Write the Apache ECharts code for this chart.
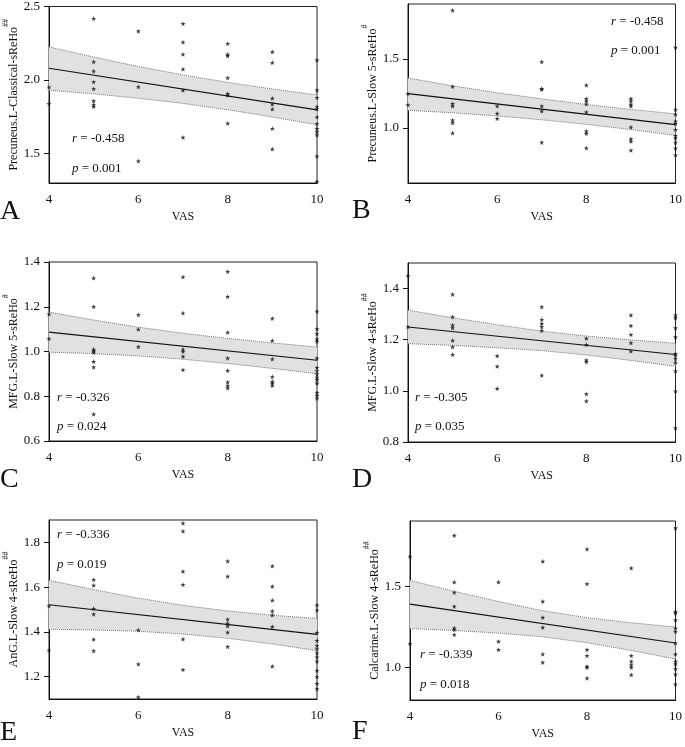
<!DOCTYPE html>
<html>
<head>
<meta charset="utf-8">
<script src="https://cdn.jsdelivr.net/npm/echarts@6/dist/echarts.min.js"></script>
<style>
html,body{margin:0;padding:0;background:#fff;}
#chart{width:685px;height:747px;}
</style>
</head>
<body>
<div id="chart"></div>
<script>
// ---------- DATA ----------
const xTicks = [4, 6, 8, 10];
const bandX = [4, 5, 6, 7, 8, 9, 10];
const lineX = [4, 10];

// Panel A: Precuneus.L-Classical-sReHo##
const ptsA = [[4,1.951],[4,1.84],
  [5,2.418],[5,2.124],[5,2.06],[5,1.987],[5,1.94],[5,1.858],[5,1.832],[5,1.82],
  [6,2.332],[6,1.954],[6,1.449],
  [7,2.383],[7,2.257],[7,2.175],[7,2.075],[7,1.93],[7,1.61],
  [8,2.248],[8,2.175],[8,2.164],[8,2.015],[8,1.907],[8,1.896],[8,1.706],
  [9,2.192],[9,2.119],[9,1.876],[9,1.836],[9,1.803],[9,1.67],[9,1.531],
  [10,2.135],[10,1.931],[10,1.88],[10,1.82],[10,1.803],[10,1.748],[10,1.704],[10,1.67],[10,1.648],[10,1.626],[10,1.482],[10,1.31]];
const lineA = [2.080, 1.797];
const upA = [2.225, 2.156, 2.092, 2.035, 1.984, 1.939, 1.899];
const loA = [1.931, 1.906, 1.876, 1.841, 1.798, 1.749, 1.696];

// Panel B: Precuneus.L-Slow 5-sReHo#
const ptsB = [[4,1.249],[4,1.168],
  [5,1.854],[5,1.30],[5,1.176],[5,1.159],[5,1.056],[5,1.037],[5,0.963],
  [6,1.159],[6,1.105],[6,1.068],
  [7,1.48],[7,1.285],[7,1.28],[7,1.159],[7,1.122],[7,0.895],
  [8,1.31],[8,1.212],[8,1.195],[8,1.173],[8,1.115],[8,0.976],[8,0.959],[8,0.854],
  [9,1.212],[9,1.195],[9,1.171],[9,1.159],[9,1.005],[9,0.92],[9,0.902],[9,0.837],
  [10,1.585],[10,1.134],[10,1.098],[10,1.049],[10,1.032],[10,0.988],[10,0.944],[10,0.927],[10,0.895],[10,0.854],[10,0.805]];
const lineB = [1.249, 1.024];
const upB = [1.362, 1.306, 1.255, 1.211, 1.170, 1.134, 1.102];
const loB = [1.128, 1.110, 1.087, 1.059, 1.026, 0.988, 0.946];

// Panel C: MFG.L-Slow 5-sReHo#
const ptsC = [[4,1.167],[4,1.057],
  [5,1.328],[5,1.2],[5,1.01],[5,1.003],[5,0.996],[5,0.955],[5,0.93],[5,0.72],
  [6,1.164],[6,1.099],[6,1.021],
  [7,1.333],[7,1.172],[7,1.01],[7,1.0],[7,0.978],[7,0.918],
  [8,1.357],[8,1.245],[8,1.085],[8,0.97],[8,0.915],[8,0.863],[8,0.848],[8,0.836],
  [9,1.148],[9,1.049],[9,0.966],[9,0.887],[9,0.866],[9,0.858],[9,0.848],
  [10,1.179],[10,1.101],[10,1.079],[10,1.055],[10,1.045],[10,0.97],[10,0.928],[10,0.913],[10,0.899],[10,0.884],[10,0.873],[10,0.858],[10,0.816],[10,0.803],[10,0.791]];
const lineC = [1.0865, 0.961];
const upC = [1.176, 1.1405, 1.1085, 1.0815, 1.0585, 1.0385, 1.020];
const loC = [0.997, 0.9905, 0.9805, 0.9655, 0.9465, 0.9245, 0.901];

// Panel D: MFG.L-Slow 4-sReHo##
const ptsD = [[4,1.45],[4,1.25],
  [5,1.377],[5,1.289],[5,1.257],[5,1.246],[5,1.197],[5,1.172],[5,1.142],
  [6,1.137],[6,1.096],[6,1.009],
  [7,1.328],[7,1.279],[7,1.263],[7,1.25],[7,1.236],[7,1.061],
  [8,1.205],[8,1.181],[8,1.12],[8,1.113],[8,0.988],[8,0.96],
  [9,1.296],[9,1.255],[9,1.22],[9,1.188],[9,1.155],
  [10,1.296],[10,1.285],[10,1.246],[10,1.211],[10,1.146],[10,1.139],[10,1.126],[10,1.111],[10,1.078],[10,0.999],[10,0.855]];
const lineD = [1.25, 1.142];
const upD = [1.3155, 1.2858, 1.2587, 1.2335, 1.2143, 1.1992, 1.186];
const loD = [1.1845, 1.1778, 1.1687, 1.1575, 1.1403, 1.1192, 1.096];

// Panel E: AnG.L-Slow 4-sReHo##
const ptsE = [[4,1.516],[4,1.318],
  [5,1.633],[5,1.608],[5,1.504],[5,1.479],[5,1.367],[5,1.315],
  [6,1.408],[6,1.256],[6,1.108],
  [7,1.886],[7,1.85],[7,1.67],[7,1.611],[7,1.368],[7,1.231],
  [8,1.716],[8,1.648],[8,1.456],[8,1.438],[8,1.426],[8,1.398],[8,1.334],
  [9,1.694],[9,1.603],[9,1.541],[9,1.493],[9,1.475],[9,1.423],[9,1.246],
  [10,1.519],[10,1.497],[10,1.397],[10,1.361],[10,1.339],[10,1.324],[10,1.305],[10,1.287],[10,1.268],[10,1.227],[10,1.199],[10,1.169],[10,1.145]];
const lineE = [1.521, 1.389];
const upE = [1.6305, 1.5888, 1.5507, 1.5185, 1.4933, 1.4742, 1.460];
const loE = [1.4115, 1.4088, 1.4027, 1.3905, 1.3713, 1.3462, 1.316];

// Panel F: Calcarine.L-Slow 4-sReHo##
const ptsF = [[4,1.682],[4,1.145],
  [5,1.811],[5,1.525],[5,1.461],[5,1.375],[5,1.242],[5,1.232],[5,1.201],
  [6,1.525],[6,1.16],[6,1.109],
  [7,1.652],[7,1.406],[7,1.307],[7,1.246],[7,1.082],[7,1.031],
  [8,1.727],[8,1.514],[8,1.109],[8,1.072],[8,1.006],[8,1.0],[8,0.934],
  [9,1.611],[9,1.072],[9,1.037],[9,1.016],[9,1.0],[9,0.955],
  [10,1.857],[10,1.344],[10,1.334],[10,1.293],[10,1.242],[10,1.221],[10,1.15],[10,1.082],[10,1.037],[10,1.02],[10,0.992],[10,0.959],[10,0.898]];
const lineF = [1.389, 1.150];
const upF = [1.535, 1.4675, 1.405, 1.3485, 1.306, 1.2745, 1.248];
const loF = [1.239, 1.2275, 1.211, 1.1885, 1.152, 1.1045, 1.052];

const yNames = ['Precuneus.L-Classical-sReHo', 'Precuneus.L-Slow 5-sReHo', 'MFG.L-Slow 5-sReHo',
                'MFG.L-Slow 4-sReHo', 'AnG.L-Slow 4-sReHo', 'Calcarine.L-Slow 4-sReHo'];
const ySup = ['##', '#', '#', '##', '##', '##'];
const yMin = [1.3, 0.6, 0.6, 0.8, 1.1, 0.8];
const yMax = [2.5, 1.9, 1.4, 1.5, 1.9, 1.9];
const yTicks = [[1.5, 2.0, 2.5], [1.0, 1.5], [0.6, 0.8, 1.0, 1.2, 1.4], [0.8, 1.0, 1.2, 1.4], [1.2, 1.4, 1.6, 1.8], [1.0, 1.5]];
const rVals = ['-0.458', '-0.458', '-0.326', '-0.305', '-0.336', '-0.339'];
const pVals = ['0.001', '0.001', '0.024', '0.035', '0.019', '0.018'];
const letters = ['A', 'B', 'C', 'D', 'E', 'F'];

// ---------- LAYOUT ----------
const FONT = 'Liberation Serif';
const grids = [
  {left: 49, top: 4, width: 268, height: 179},
  {left: 408, top: 4, width: 269, height: 179},
  {left: 49, top: 262, width: 268, height: 179},
  {left: 408, top: 263, width: 268, height: 179},
  {left: 49, top: 520, width: 268, height: 179},
  {left: 410, top: 521, width: 269, height: 179}
];
const statPos = [[72, 140, 170], [611, 23, 52], [57, 399, 428], [415, 399, 428], [57, 536, 566], [420, 656, 686]];
const letterPos = [[0, 222], [352, 221], [0, 490], [352, 490], [0, 743], [352, 742]];

const pts = [ptsA, ptsB, ptsC, ptsD, ptsE, ptsF];
const lines = [lineA, lineB, lineC, lineD, lineE, lineF];
const ups = [upA, upB, upC, upD, upE, upF];
const los = [loA, loB, loC, loD, loE, loF];

const STAR = 'path://M0,-10 L2.35,-3.24 L9.51,-3.09 L3.8,1.24 L5.88,8.09 L0,4 L-5.88,8.09 L-3.8,1.24 L-9.51,-3.09 L-2.35,-3.24 Z';

const option = {
  animation: false,
  backgroundColor: '#fff',
  grid: [], xAxis: [], yAxis: [], series: [], graphic: []
};

for (let i = 0; i < 6; i++) {
  option.grid.push(Object.assign({show: true, borderColor: '#222', borderWidth: 1, backgroundColor: 'transparent', containLabel: false}, grids[i]));
  option.xAxis.push({
    gridIndex: i, type: 'value', min: 4, max: 10, interval: 2,
    name: 'VAS', nameLocation: 'middle', nameGap: 28,
    nameTextStyle: {fontFamily: FONT, fontSize: 12, color: '#111'},
    axisLine: {show: true, onZero: false, lineStyle: {color: '#111', width: 1}},
    axisTick: {show: false},
    axisLabel: {fontFamily: FONT, fontSize: 13, color: '#111', margin: 10, customValues: xTicks},
    splitLine: {show: false}
  });
  option.yAxis.push({
    gridIndex: i, type: 'value', min: yMin[i], max: yMax[i],
    name: '{m|' + yNames[i] + '}{s|' + ySup[i] + '}',
    nameLocation: 'middle', nameGap: 28, nameRotate: 90,
    nameTextStyle: {
      fontFamily: FONT, color: '#111',
      rich: {
        m: {fontFamily: FONT, fontSize: 12, lineHeight: 18, verticalAlign: 'bottom', color: '#111'},
        s: {fontFamily: FONT, fontSize: 8, lineHeight: 9, verticalAlign: 'top', color: '#111'}
      }
    },
    axisLine: {show: true, onZero: false, lineStyle: {color: '#111', width: 1}},
    axisTick: {show: true, length: 5, inside: false, customValues: yTicks[i], lineStyle: {color: '#111'}},
    axisLabel: {fontFamily: FONT, fontSize: 13, color: '#111', margin: 9, customValues: yTicks[i],
      formatter: v => Number(v).toFixed(1)},
    splitLine: {show: false}
  });

  const up = ups[i], lo = los[i];
  option.series.push({
    type: 'custom', xAxisIndex: i, yAxisIndex: i, z: 1, silent: true,
    data: bandX.map((x, k) => [x, lo[k], up[k]]),
    encode: {x: 0, y: [1, 2]},
    renderItem: function (params, api) {
      if (params.dataIndex !== 0) return null;
      const top = bandX.map((x, k) => api.coord([x, up[k]]));
      const bot = bandX.map((x, k) => api.coord([x, lo[k]])).reverse();
      return {type: 'polygon', shape: {points: top.concat(bot)}, style: {fill: '#e1e1e1'}};
    }
  });
  option.series.push({
    type: 'line', xAxisIndex: i, yAxisIndex: i, z: 2, symbol: 'none', silent: true,
    data: bandX.map((x, k) => [x, up[k]]),
    lineStyle: {color: '#777', width: 1, type: 'dotted'}
  });
  option.series.push({
    type: 'line', xAxisIndex: i, yAxisIndex: i, z: 2, symbol: 'none', silent: true,
    data: bandX.map((x, k) => [x, lo[k]]),
    lineStyle: {color: '#777', width: 1, type: 'dotted'}
  });
  option.series.push({
    type: 'line', xAxisIndex: i, yAxisIndex: i, z: 3, symbol: 'none', silent: true,
    data: lineX.map((x, k) => [x, lines[i][k]]),
    lineStyle: {color: '#111', width: 1.1}
  });
  option.series.push({
    type: 'scatter', xAxisIndex: i, yAxisIndex: i, z: 4, silent: true,
    symbol: STAR, symbolSize: 5, clip: false,
    itemStyle: {color: '#111'},
    data: pts[i]
  });

  const sp = statPos[i];
  const richStat = {
    it: {fontFamily: FONT, fontSize: 13, fontStyle: 'italic', fill: '#111'},
    n: {fontFamily: FONT, fontSize: 13, fill: '#111'}
  };
  option.graphic.push({
    type: 'text', left: sp[0], top: sp[1] - 8, z: 10,
    style: {text: '{it|r}{n| = ' + rVals[i] + '}', rich: richStat, fontFamily: FONT, fontSize: 13}
  });
  option.graphic.push({
    type: 'text', left: sp[0], top: sp[2] - 8, z: 10,
    style: {text: '{it|p}{n| = ' + pVals[i] + '}', rich: richStat, fontFamily: FONT, fontSize: 13}
  });
  const lp = letterPos[i];
  option.graphic.push({
    type: 'text', left: lp[0], top: lp[1] - 24, z: 10,
    style: {text: letters[i], fontFamily: FONT, fontSize: 28, fill: '#111'}
  });
}

const chart = echarts.init(document.getElementById('chart'), null, {renderer: 'canvas'});
chart.setOption(option);
</script>
</body>
</html>
